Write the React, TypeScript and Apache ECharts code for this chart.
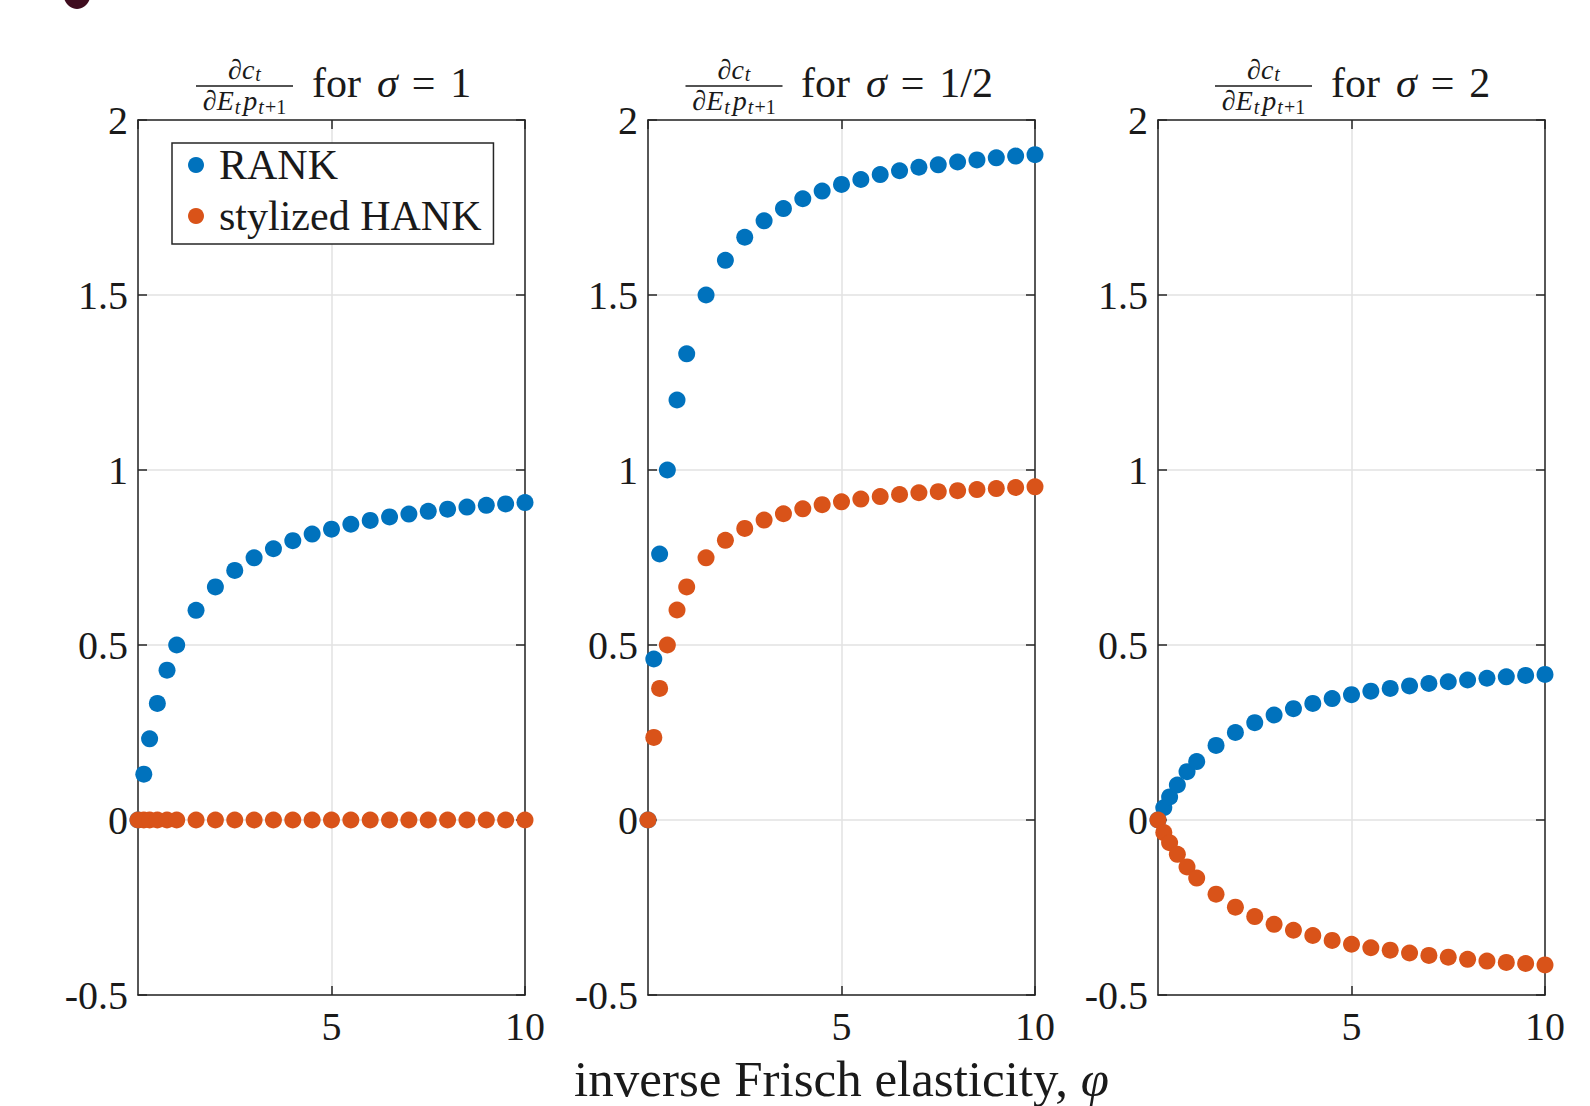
import React, { useEffect, useRef } from "react";
import * as echarts from "echarts";

// ---------------- data ----------------
const PHI = [0, 0.15, 0.3, 0.5, 0.75, 1, 1.5, 2, 2.5, 3, 3.5, 4, 4.5, 5, 5.5, 6, 6.5, 7, 7.5, 8, 8.5, 9, 9.5, 10];

const RANK_SIGMA_1 = [0, 0.131, 0.232, 0.333, 0.428, 0.5, 0.599, 0.666, 0.713, 0.749, 0.775, 0.798, 0.817, 0.831, 0.845, 0.856, 0.866, 0.874, 0.882, 0.888, 0.894, 0.899, 0.903, 0.907];
const HANK_SIGMA_1 = [0, 0, 0, 0, 0, 0, 0, 0, 0, 0, 0, 0, 0, 0, 0, 0, 0, 0, 0, 0, 0, 0, 0, 0];

const RANK_SIGMA_HALF = [0, 0.46, 0.76, 1.0, 1.2, 1.332, 1.5, 1.599, 1.665, 1.712, 1.747, 1.775, 1.797, 1.816, 1.83, 1.844, 1.855, 1.865, 1.872, 1.88, 1.886, 1.892, 1.897, 1.901];
const HANK_SIGMA_HALF = [0, 0.236, 0.376, 0.5, 0.6, 0.666, 0.749, 0.799, 0.833, 0.857, 0.875, 0.889, 0.901, 0.909, 0.917, 0.924, 0.93, 0.935, 0.938, 0.941, 0.944, 0.947, 0.95, 0.952];

const RANK_SIGMA_2 = [0, 0.035, 0.066, 0.1, 0.138, 0.167, 0.213, 0.25, 0.278, 0.3, 0.318, 0.333, 0.347, 0.358, 0.368, 0.376, 0.383, 0.39, 0.395, 0.4, 0.405, 0.409, 0.413, 0.416];
const HANK_SIGMA_2 = [0, -0.036, -0.065, -0.098, -0.134, -0.166, -0.212, -0.249, -0.276, -0.298, -0.315, -0.33, -0.344, -0.355, -0.365, -0.372, -0.38, -0.387, -0.392, -0.398, -0.403, -0.407, -0.41, -0.414];

const SIGMA_LABELS = ["1", "1/2", "2"];
const SERIES_NAMES = ["RANK", "stylized HANK"];
const X_AXIS_TEXT = "inverse Frisch elasticity, ";
const X_AXIS_SYMBOL = "φ";
const Y_MIN = -0.5;
const Y_MAX = 2;
const Y_STEP = 0.5;
const X_MIN = 0;
const X_MAX = 10;
const X_STEP = 5;

const PANELS = [
  { rank: RANK_SIGMA_1, hank: HANK_SIGMA_1, sigma: SIGMA_LABELS[0] },
  { rank: RANK_SIGMA_HALF, hank: HANK_SIGMA_HALF, sigma: SIGMA_LABELS[1] },
  { rank: RANK_SIGMA_2, hank: HANK_SIGMA_2, sigma: SIGMA_LABELS[2] },
];

// ---------------- layout & style ----------------
const W = 1590;
const H = 1106;
const FONT = "Liberation Serif";
const AX = "#262626";
const TXT = "#1a1a1a";
const GRID_C = "#e2e2e2";
const BLUE = "#0072BD";
const RED = "#D95319";

const PANEL_LEFT = [138, 648, 1158];
const PANEL_TOP = 120;
const PANEL_W = 387;
const PANEL_H = 875;
const FRAC_CX = [244.5, 734, 1263.5];
const FRAC_HALF = 48.5;
const TITLE_X = [312, 801, 1331];

// rich-text styles for the stacked fraction dc_t / dE_t p_{t+1}
const FRAC_LH = 31;
const FRAC_RICH = {
  m: { fontFamily: FONT, fontSize: 28, fontStyle: "italic", fill: TXT, lineHeight: FRAC_LH },
  a: { fontFamily: FONT, fontSize: 20, fontStyle: "italic", fill: TXT, lineHeight: FRAC_LH, padding: [8, 0, 0, 1] },
  s: { fontFamily: FONT, fontSize: 20, fontStyle: "italic", fill: TXT, lineHeight: FRAC_LH, padding: [12, 0, 0, 1] },
  q: { fontFamily: FONT, fontSize: 28, fontStyle: "italic", fill: TXT, lineHeight: FRAC_LH, padding: [0, 0, 0, 3] },
  u: { fontFamily: FONT, fontSize: 20, fill: TXT, lineHeight: FRAC_LH, padding: [12, 0, 0, 1] },
};
const FRAC_TEXT = "{m|∂c}{a|t}\n{m|∂E}{s|t}{q|p}{s|t}{u|+1}";

function buildOption() {
  const grid: any[] = [];
  const xAxis: any[] = [];
  const yAxis: any[] = [];
  const series: any[] = [];
  const graphic: any[] = [];

  const lineStyle = { color: AX, width: 1.5 };

  PANELS.forEach((p, i) => {
    grid.push({ left: PANEL_LEFT[i], top: PANEL_TOP, width: PANEL_W, height: PANEL_H, containLabel: false });

    const xBase = {
      gridIndex: i,
      type: "value",
      min: X_MIN,
      max: X_MAX,
      interval: X_STEP,
      axisLine: { show: true, onZero: false, lineStyle },
      axisTick: { show: true, inside: true, length: 9, lineStyle },
    };
    xAxis.push({
      ...xBase,
      position: "bottom",
      axisLabel: { show: true, showMinLabel: false, margin: 11, fontFamily: FONT, fontSize: 40, color: TXT },
      splitLine: { show: true, lineStyle: { color: GRID_C, width: 1.5 } },
    });
    xAxis.push({
      ...xBase,
      position: "top",
      axisLabel: { show: false },
      splitLine: { show: false },
    });

    const yBase = {
      gridIndex: i,
      type: "value",
      min: Y_MIN,
      max: Y_MAX,
      interval: Y_STEP,
      axisLine: { show: true, onZero: false, lineStyle },
      axisTick: { show: true, inside: true, length: 9, lineStyle },
    };
    yAxis.push({
      ...yBase,
      position: "left",
      axisLabel: { show: true, margin: 10, fontFamily: FONT, fontSize: 40, color: TXT },
      splitLine: { show: true, lineStyle: { color: GRID_C, width: 1.5 } },
    });
    yAxis.push({
      ...yBase,
      position: "right",
      axisLabel: { show: false },
      splitLine: { show: false },
    });

    series.push({
      name: SERIES_NAMES[0],
      type: "scatter",
      xAxisIndex: 2 * i,
      yAxisIndex: 2 * i,
      symbol: "circle",
      symbolSize: 17,
      itemStyle: { color: BLUE, opacity: 1 },
      data: PHI.map((x, k) => [x, p.rank[k]]),
      z: 3,
    });
    series.push({
      name: SERIES_NAMES[1],
      type: "scatter",
      xAxisIndex: 2 * i,
      yAxisIndex: 2 * i,
      symbol: "circle",
      symbolSize: 17,
      itemStyle: { color: RED, opacity: 1 },
      data: PHI.map((x, k) => [x, p.hank[k]]),
      z: 4,
    });

    // title: stacked fraction + "for sigma = ..."
    const cx = FRAC_CX[i];
    graphic.push({
      type: "text",
      x: cx,
      y: 85,
      style: { text: FRAC_TEXT, rich: FRAC_RICH, align: "center", verticalAlign: "middle" },
    });
    graphic.push({
      type: "line",
      shape: { x1: cx - FRAC_HALF, y1: 86, x2: cx + FRAC_HALF, y2: 86 },
      style: { stroke: TXT, lineWidth: 1.6 },
    });
    graphic.push({
      type: "text",
      x: TITLE_X[i],
      y: 83,
      style: {
        text: "{u|for}{i|σ}{e|=}{v|" + p.sigma + "}",
        rich: {
          u: { fontFamily: FONT, fontSize: 42, fill: TXT },
          i: { fontFamily: FONT, fontSize: 42, fontStyle: "italic", fill: TXT, padding: [0, 0, 0, 16] },
          e: { fontFamily: FONT, fontSize: 42, fill: TXT, padding: [0, 0, 0, 14] },
          v: { fontFamily: FONT, fontSize: 42, fill: TXT, padding: [0, 0, 0, 15] },
        },
        align: "left",
        verticalAlign: "middle",
      },
    });
  });

  // shared x-axis label
  graphic.push({
    type: "text",
    x: 841.5,
    y: 1079,
    style: {
      text: "{u|" + X_AXIS_TEXT + "}{i|" + X_AXIS_SYMBOL + "}",
      rich: {
        u: { fontFamily: FONT, fontSize: 51, fill: TXT },
        i: { fontFamily: FONT, fontSize: 51, fontStyle: "italic", fill: TXT },
      },
      align: "center",
      verticalAlign: "middle",
    },
  });

  // cropped glyph of the slide heading at the very top-left
  graphic.push({
    type: "ellipse",
    shape: { cx: 77, cy: -8, rx: 14, ry: 17 },
    style: { fill: "#3f0d1f" },
  });

  return {
    animation: false,
    backgroundColor: "#ffffff",
    grid,
    xAxis,
    yAxis,
    series,
    graphic,
    legend: {
      data: SERIES_NAMES,
      orient: "vertical",
      left: 172,
      top: 143,
      padding: [0, 12, 6, 16],
      itemWidth: 16,
      itemHeight: 16,
      itemGap: 7,
      icon: "circle",
      borderColor: AX,
      borderWidth: 1.5,
      backgroundColor: "#ffffff",
      selectedMode: false,
      textStyle: { fontFamily: FONT, fontSize: 42, color: TXT, lineHeight: 44, padding: [0, 0, 0, 10] },
      z: 10,
    },
  };
}

export default function App() {
  const ref = useRef<HTMLDivElement>(null);
  useEffect(() => {
    if (!ref.current) return;
    const chart = echarts.init(ref.current, undefined, { renderer: "svg" });
    chart.setOption(buildOption() as any);
    return () => chart.dispose();
  }, []);
  return (
    <div
      ref={ref}
      style={{ position: "absolute", left: 0, top: 0, width: W, height: H, background: "#fff" }}
    />
  );
}
